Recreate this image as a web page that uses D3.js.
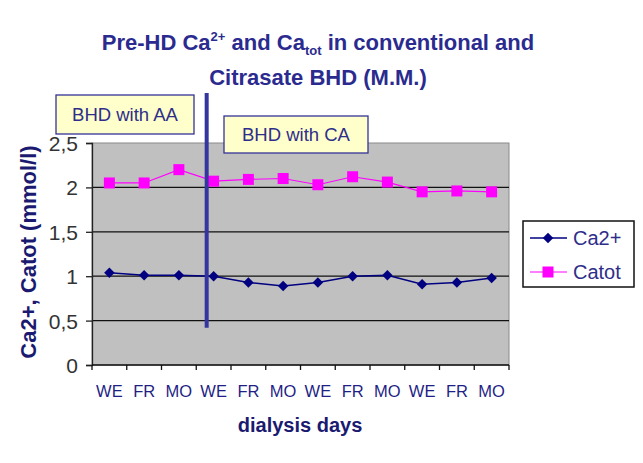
<!DOCTYPE html>
<html>
<head>
<meta charset="utf-8">
<script src="https://cdn.jsdelivr.net/npm/d3@7/dist/d3.min.js"></script>
<style>
  html, body { margin: 0; padding: 0; background: #fff; }
  svg { display: block; font-family: "Liberation Sans", Arial, sans-serif; }
</style>
</head>
<body>
<svg id="chart" width="643" height="463"></svg>
<script>
// Dialysis days, three weeks per period
const days = ["WE", "FR", "MO", "WE", "FR", "MO", "WE", "FR", "MO", "WE", "FR", "MO"];
// Pre-HD ionised calcium (mmol/l)
const ca2 = [1.04, 1.01, 1.01, 1.00, 0.93, 0.89, 0.93, 1.00, 1.01, 0.91, 0.93, 0.98];
// Pre-HD total calcium (mmol/l)
const catot = [2.05, 2.05, 2.20, 2.07, 2.09, 2.10, 2.03, 2.12, 2.06, 1.95, 1.96, 1.95];
const yTicks = [0, 0.5, 1, 1.5, 2, 2.5];
const seriesNames = ["Ca2+", "Catot"];

const svg = d3.select("#chart");
const plot = { left: 92, right: 509, top: 143, bottom: 365 };

const x = d3.scaleBand().domain(d3.range(days.length)).range([plot.left, plot.right]);
const y = d3.scaleLinear().domain([0, 2.5]).range([plot.bottom, plot.top]);
const cx = i => x(i) + x.bandwidth() / 2;

const navy = "#000080";
const pink = "#ff00ff";
const textBlue = "#1f1f86";

// Plot background
svg.append("rect")
  .attr("x", plot.left).attr("y", plot.top)
  .attr("width", plot.right - plot.left).attr("height", plot.bottom - plot.top)
  .attr("fill", "#c0c0c0").attr("stroke", "#8a8a8a").attr("stroke-width", 1);

// Horizontal gridlines
svg.append("g").selectAll("line").data(yTicks.filter(v => v > 0 && v < 2.5)).join("line")
  .attr("x1", plot.left).attr("x2", plot.right)
  .attr("y1", d => y(d)).attr("y2", d => y(d))
  .attr("stroke", "#111").attr("stroke-width", 1.3);

// Y axis
const yAxis = svg.append("g").attr("transform", `translate(${plot.left},0)`)
  .call(d3.axisLeft(y).tickValues(yTicks).tickSize(6).tickPadding(8)
    .tickFormat(d => String(d).replace(".", ",")));
yAxis.select(".domain").attr("stroke", "#222").attr("stroke-width", 1.3);
yAxis.selectAll(".tick line").attr("stroke", "#222").attr("stroke-width", 1.3);
yAxis.selectAll("text").attr("font-size", 21).attr("fill", "#333").attr("dy", "0.36em")
  .attr("font-family", "'Liberation Sans', Arial, sans-serif");

// X axis with ticks between categories
const xAxisG = svg.append("g").attr("transform", `translate(0,${plot.bottom})`);
xAxisG.append("line").attr("x1", plot.left).attr("x2", plot.right)
  .attr("stroke", "#111").attr("stroke-width", 1.3);
xAxisG.selectAll("line.t").data(d3.range(days.length + 1)).join("line")
  .attr("class", "t")
  .attr("x1", i => plot.left + i * x.step()).attr("x2", i => plot.left + i * x.step())
  .attr("y1", 0).attr("y2", 5).attr("stroke", "#111").attr("stroke-width", 1.3);
xAxisG.selectAll("text").data(days).join("text")
  .attr("x", (d, i) => cx(i)).attr("y", 32)
  .attr("text-anchor", "middle").attr("font-size", 16.5).attr("fill", textBlue)
  .text(d => d);

// Series lines and markers
const line = d3.line().x((d, i) => cx(i)).y(d => y(d));
svg.append("path").datum(catot).attr("d", line)
  .attr("fill", "none").attr("stroke", pink).attr("stroke-width", 1.2);
svg.append("path").datum(ca2).attr("d", line)
  .attr("fill", "none").attr("stroke", navy).attr("stroke-width", 1.5);

svg.append("g").selectAll("rect").data(catot).join("rect")
  .attr("x", (d, i) => cx(i) - 5.5).attr("y", d => y(d) - 5.5)
  .attr("width", 11).attr("height", 11).attr("fill", pink);

const diamond = d3.symbol().type(d3.symbolDiamond2).size(70);
svg.append("g").selectAll("path").data(ca2).join("path")
  .attr("transform", (d, i) => `translate(${cx(i)},${y(d)})`)
  .attr("d", diamond).attr("fill", navy);

// Period separator
const sepX = plot.left + 3.3 * x.step();
svg.append("line").attr("x1", sepX).attr("x2", sepX)
  .attr("y1", 93).attr("y2", y(0.42))
  .attr("stroke", "#3535a0").attr("stroke-width", 4);

// Period labels
function labelBox(x0, y0, w, h, txt) {
  svg.append("rect").attr("x", x0).attr("y", y0).attr("width", w).attr("height", h)
    .attr("fill", "#ffffcc").attr("stroke", "#333399").attr("stroke-width", 1.3);
  svg.append("text").attr("x", x0 + w / 2).attr("y", y0 + h / 2 + 6.5)
    .attr("text-anchor", "middle").attr("font-size", 18.5).attr("fill", "#2e2e8a")
    .text(txt);
}
labelBox(56, 95, 138, 39, "BHD with AA");
labelBox(224, 116, 144, 37, "BHD with CA");

// Title
const title = svg.append("text").attr("x", 318).attr("y", 50)
  .attr("text-anchor", "middle").attr("font-size", 22).attr("font-weight", "bold")
  .attr("fill", "#2b2b8f");
title.append("tspan").text("Pre-HD Ca");
title.append("tspan").attr("dy", -9).attr("font-size", 13).text("2+");
title.append("tspan").attr("dy", 9).text(" and Ca");
title.append("tspan").attr("dy", 5).attr("font-size", 13).text("tot");
title.append("tspan").attr("dy", -5).text(" in conventional and");
svg.append("text").attr("x", 318).attr("y", 85)
  .attr("text-anchor", "middle").attr("font-size", 22).attr("font-weight", "bold")
  .attr("fill", "#2b2b8f").text("Citrasate BHD (M.M.)");

// Axis titles
svg.append("text").attr("transform", "translate(36,252) rotate(-90)")
  .attr("text-anchor", "middle").attr("font-size", 22).attr("font-weight", "bold")
  .attr("fill", "#1a1a70").text("Ca2+, Catot (mmol/l)");
svg.append("text").attr("x", 300).attr("y", 432)
  .attr("text-anchor", "middle").attr("font-size", 20).attr("font-weight", "bold")
  .attr("fill", "#1a1a70").text("dialysis days");

// Legend
const lg = svg.append("g").attr("transform", "translate(523,221)");
lg.append("rect").attr("width", 111).attr("height", 66)
  .attr("fill", "#fff").attr("stroke", "#111").attr("stroke-width", 1.5);
const items = [
  { name: seriesNames[0], color: navy, shape: "diamond" },
  { name: seriesNames[1], color: pink, shape: "square" }
];
items.forEach((it, k) => {
  const yy = 17 + k * 34;
  lg.append("line").attr("x1", 7).attr("x2", 44).attr("y1", yy).attr("y2", yy)
    .attr("stroke", it.color).attr("stroke-width", it.shape === "diamond" ? 1.5 : 1.2);
  if (it.shape === "diamond") {
    lg.append("path").attr("transform", `translate(25,${yy})`).attr("d", diamond).attr("fill", it.color);
  } else {
    lg.append("rect").attr("x", 19.5).attr("y", yy - 5.5).attr("width", 11).attr("height", 11).attr("fill", it.color);
  }
  lg.append("text").attr("x", 50).attr("y", yy + 7).attr("font-size", 20)
    .attr("fill", "#2e2e8a").text(it.name);
});
</script>
</body>
</html>
